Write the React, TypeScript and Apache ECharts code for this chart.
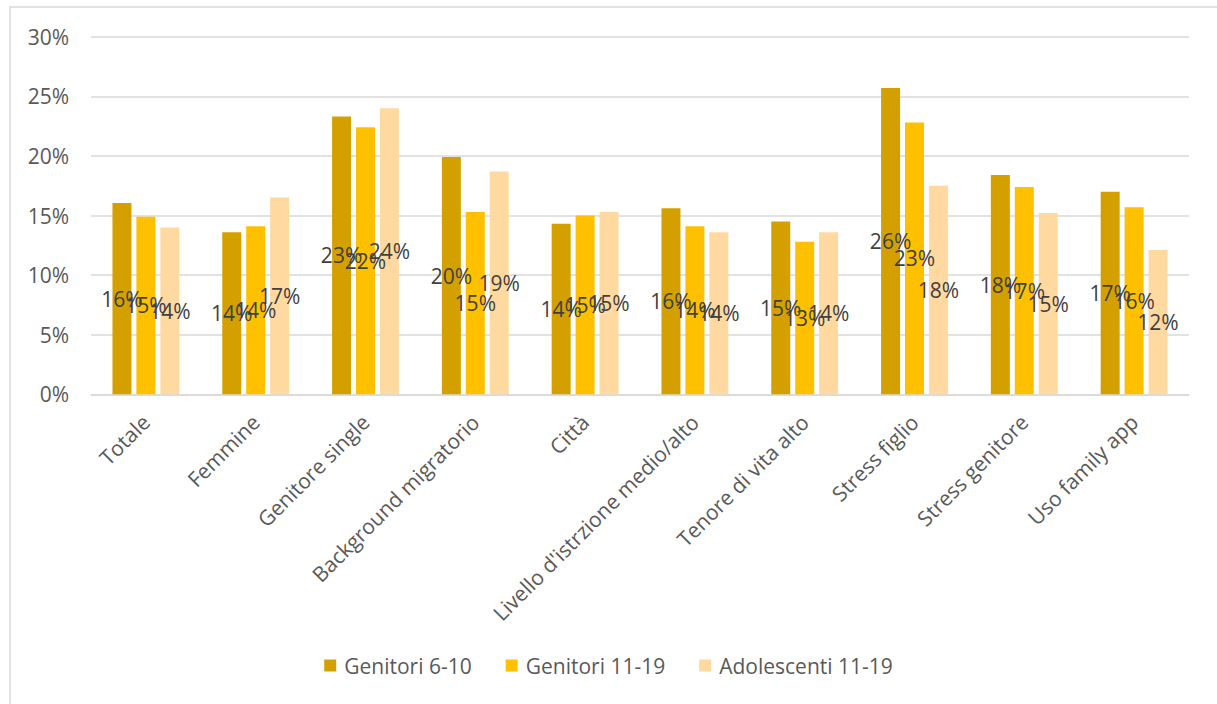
import React, { useEffect, useRef } from "react";
import * as echarts from "echarts";

const categories = [
  "Totale",
  "Femmine",
  "Genitore single",
  "Background migratorio",
  "Città",
  "Livello d'istrzione medio/alto",
  "Tenore di vita alto",
  "Stress figlio",
  "Stress genitore",
  "Uso family app",
];

const seriesNames = ["Genitori 6-10", "Genitori 11-19", "Adolescenti 11-19"];

// Percent values per category
const genitori610 = [16.05, 13.6, 23.3, 19.9, 14.3, 15.6, 14.5, 25.7, 18.4, 17.0];
const genitori1119 = [14.9, 14.1, 22.4, 15.3, 15.0, 14.1, 12.8, 22.8, 17.4, 15.7];
const adolescenti1119 = [14.0, 16.5, 24.0, 18.7, 15.3, 13.6, 13.6, 17.5, 15.2, 12.1];

const yTicks = { min: 0, max: 30, interval: 5 };

const colors = ["#D4A000", "#FFC000", "#FFD9A0"];
const FONT = "'Open Sans', 'Noto Sans', sans-serif";
const FS = 21;

export default function App() {
  const ref = useRef<HTMLDivElement>(null);

  useEffect(() => {
    if (!ref.current) return;
    const chart = echarts.init(ref.current, null, { renderer: "svg" });
    const values = [genitori610, genitori1119, adolescenti1119];

    chart.setOption({
      animation: false,
      backgroundColor: "#ffffff",
      textStyle: { fontFamily: FONT },
      graphic: [
        {
          type: "rect",
          shape: { x: 10, y: 7, width: 1230, height: 730 },
          style: { fill: "none", stroke: "#d9d9d9", lineWidth: 1.5 },
          silent: true,
        },
      ],
      legend: {
        data: seriesNames,
        bottom: 23,
        left: "center",
        itemWidth: 12,
        itemHeight: 12,
        itemGap: 34,
        icon: "rect",
        textStyle: { fontFamily: FONT, fontSize: FS, color: "#595959", padding: [0, 0, 0, 3] },
      },
      grid: { left: 91, right: 28, top: 36.7, bottom: 309.7, containLabel: false },
      xAxis: {
        type: "category",
        data: categories,
        axisTick: { show: false },
        axisLine: { lineStyle: { color: "#d9d9d9", width: 1.5 } },
        axisLabel: {
          rotate: 45,
          interval: 0,
          margin: 24,
          fontFamily: FONT,
          fontSize: FS,
          color: "#595959",
        },
      },
      yAxis: {
        type: "value",
        min: yTicks.min,
        max: yTicks.max,
        interval: yTicks.interval,
        axisLine: { show: false },
        axisTick: { show: false },
        splitLine: { lineStyle: { color: "#d9d9d9", width: 1.5 } },
        axisLabel: {
          formatter: "{value}%",
          margin: 22,
          fontFamily: FONT,
          fontSize: FS,
          color: "#595959",
        },
      },
      series: seriesNames.map((name, i) => ({
        name,
        type: "bar",
        data: values[i],
        barWidth: 19,
        barGap: "26%",
        itemStyle: { color: colors[i] },
        label: {
          show: true,
          position: "inside",
          formatter: (p: any) => `${Math.round(p.value)}%`,
          fontFamily: FONT,
          fontSize: FS,
          color: "#404040",
        },
      })),
    });

    return () => chart.dispose();
  }, []);

  return (
    <div
      ref={ref}
      style={{ position: "fixed", left: 0, top: 0, width: 1217, height: 704 }}
    />
  );
}
